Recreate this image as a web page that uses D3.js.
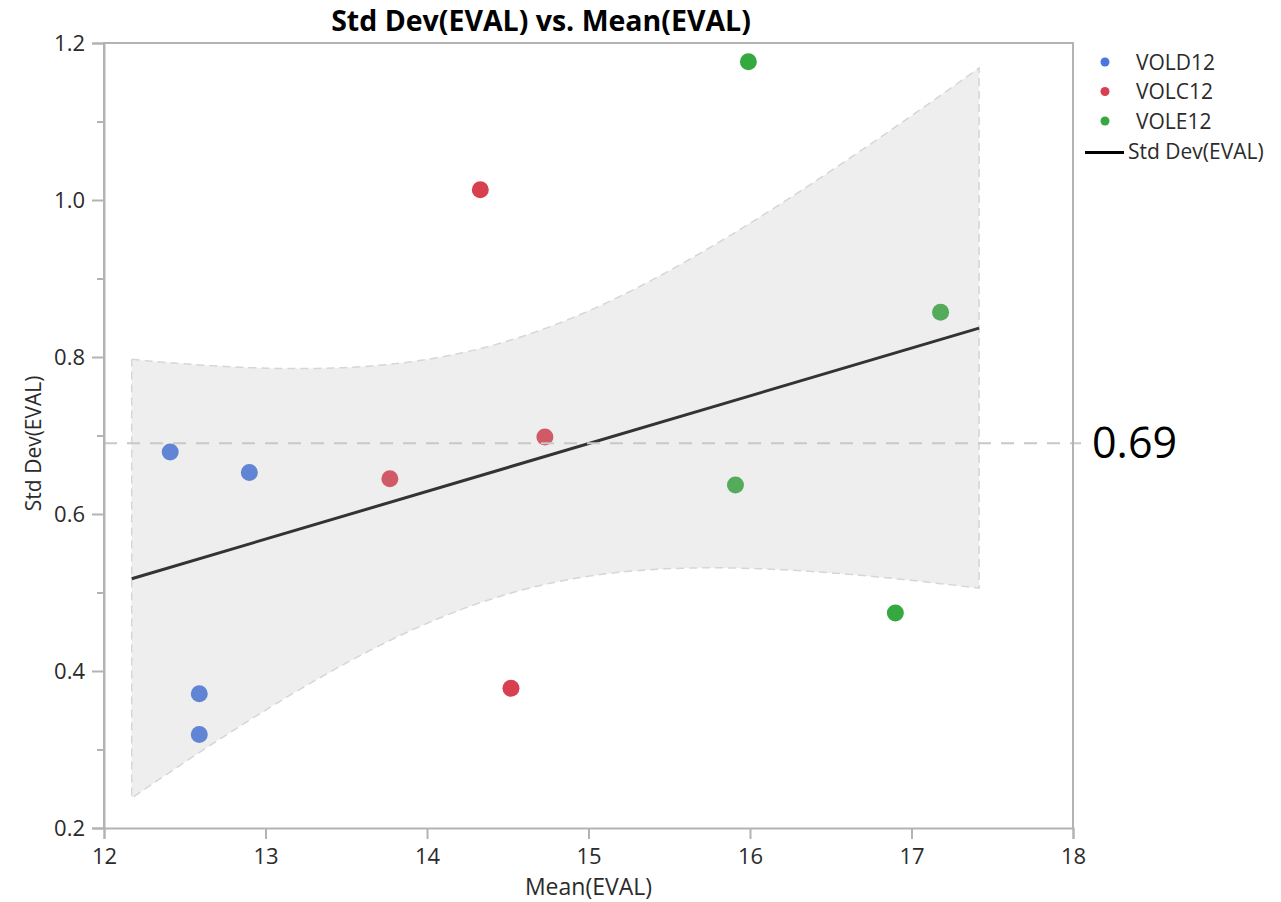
<!DOCTYPE html>
<html>
<head>
<meta charset="utf-8">
<script src="https://cdn.jsdelivr.net/npm/d3@7/dist/d3.min.js"></script>
<style>
  html, body { margin: 0; padding: 0; background: #fff; }
  svg { display: block; }
  text { font-family: "Open Sans", "DejaVu Sans", sans-serif; }
</style>
</head>
<body>
<svg id="chart" width="1281" height="902"></svg>
<script>
// Groups and their colours
const groups = ["VOLD12", "VOLC12", "VOLE12"];
const groupColors = ["#4a76de", "#d9404f", "#36a840"];

// Mean(EVAL) and Std Dev(EVAL) per sample, by group
const meanVOLD12 = [12.41, 12.90, 12.59, 12.59];
const sdVOLD12   = [0.679, 0.653, 0.371, 0.319];
const meanVOLC12 = [14.33, 14.73, 13.77, 14.52];
const sdVOLC12   = [1.013, 0.698, 0.645, 0.378];
const meanVOLE12 = [15.99, 17.18, 15.91, 16.90];
const sdVOLE12   = [1.176, 0.857, 0.637, 0.474];

// Axis ticks
const xTicks = [12, 13, 14, 15, 16, 17, 18];
const yMajorTicks = [0.2, 0.4, 0.6, 0.8, 1.0, 1.2];
const yMinorTicks = [0.3, 0.5, 0.7, 0.9, 1.1];

// Reference line value and t critical value (95%, 10 df) for the fit band
const refValue = 0.69;
const tCrit = 2.228;

const titleText = "Std Dev(EVAL) vs. Mean(EVAL)";
const xTitle = "Mean(EVAL)";
const yTitle = "Std Dev(EVAL)";
const fitLabel = "Std Dev(EVAL)";

const points = [];
[[meanVOLD12, sdVOLD12], [meanVOLC12, sdVOLC12], [meanVOLE12, sdVOLE12]].forEach((pair, gi) => {
  pair[0].forEach((m, i) => points.push({ g: gi, x: m, y: pair[1][i] }));
});

const svg = d3.select("#chart");
const plot = { left: 104, right: 1073, top: 43, bottom: 828 };

const x = d3.scaleLinear().domain([12, 18]).range([plot.left, plot.right]);
const y = d3.scaleLinear().domain([0.2, 1.2]).range([plot.bottom, plot.top]);

// Least-squares fit with confidence band on the mean
const n = points.length;
const mx = d3.mean(points, d => d.x);
const my = d3.mean(points, d => d.y);
const sxx = d3.sum(points, d => (d.x - mx) ** 2);
const sxy = d3.sum(points, d => (d.x - mx) * (d.y - my));
const slope = sxy / sxx;
const intercept = my - slope * mx;
const sse = d3.sum(points, d => (d.y - (intercept + slope * d.x)) ** 2);
const se = Math.sqrt(sse / (n - 2));
const [xmin, xmax] = d3.extent(points, d => d.x);
const pad = (xmax - xmin) * 0.05;
const fitX0 = xmin - pad, fitX1 = xmax + pad;
const bandData = d3.range(0, 101).map(i => {
  const xv = fitX0 + (fitX1 - fitX0) * i / 100;
  const yv = intercept + slope * xv;
  const hw = tCrit * se * Math.sqrt(1 / n + (xv - mx) ** 2 / sxx);
  return { x: xv, lo: yv - hw, hi: yv + hw };
});

// Points
svg.append("g").selectAll("circle").data(points).join("circle")
  .attr("cx", d => x(d.x)).attr("cy", d => y(d.y)).attr("r", 8.5)
  .attr("fill", d => groupColors[d.g]);

// Confidence band drawn over the points
const area = d3.area().x(d => x(d.x)).y0(d => y(d.lo)).y1(d => y(d.hi));
svg.append("path").datum(bandData).attr("d", area)
  .attr("fill", "rgb(180,180,180)").attr("fill-opacity", 0.23).attr("stroke", "none");
const bandOutline = bandData.map(d => [d.x, d.hi]).concat(bandData.slice().reverse().map(d => [d.x, d.lo]));
svg.append("path").datum(bandOutline.concat([bandOutline[0]])).attr("d", d3.line().x(d => x(d[0])).y(d => y(d[1])))
  .attr("fill", "none").attr("stroke", "#d6d6d6").attr("stroke-width", 1.5).attr("stroke-dasharray", "8,5");

// Fit line
svg.append("line")
  .attr("x1", x(fitX0)).attr("y1", y(intercept + slope * fitX0))
  .attr("x2", x(fitX1)).attr("y2", y(intercept + slope * fitX1))
  .attr("stroke", "#333").attr("stroke-width", 3);

// Reference line
svg.append("line")
  .attr("x1", plot.left).attr("x2", plot.right + 8)
  .attr("y1", y(refValue)).attr("y2", y(refValue))
  .attr("stroke", "#c8c8c8").attr("stroke-width", 2).attr("stroke-dasharray", "13,10");
svg.append("text").attr("x", 1092).attr("y", y(refValue) + 15)
  .attr("font-family", "Liberation Sans, Arial, sans-serif").attr("font-size", 43).attr("fill", "#000")
  .text(d3.format(".2f")(refValue));

// Frame
const frameColor = "#b3b3b3";
svg.append("path")
  .attr("d", `M${plot.left},${plot.bottom}V${plot.top}H${plot.right}V${plot.bottom}`)
  .attr("fill", "none").attr("stroke", frameColor).attr("stroke-width", 2);

// Axes
svg.append("g").attr("transform", `translate(0,${plot.bottom})`)
  .call(d3.axisBottom(x).tickValues(xTicks).tickFormat(d3.format("d")).tickSize(11).tickPadding(9));
svg.append("g").attr("transform", `translate(${plot.left},0)`)
  .call(d3.axisLeft(y).tickValues(yMajorTicks).tickFormat(d3.format(".1f")).tickSize(12).tickPadding(7));
svg.append("g").attr("transform", `translate(${plot.left},0)`)
  .call(d3.axisLeft(y).tickValues(yMinorTicks).tickFormat("").tickSize(7))
  .call(g => g.select(".domain").remove());
svg.selectAll(".domain, .tick line").attr("stroke", frameColor).attr("stroke-width", 2);
svg.selectAll(".tick text").attr("font-size", 22).attr("fill", "#2b2b2b")
  .attr("font-family", "Open Sans, sans-serif");

// Titles
svg.append("text").attr("x", 541).attr("y", 31).attr("text-anchor", "middle")
  .attr("font-size", 28.5).attr("font-weight", "bold").attr("fill", "#000").text(titleText);
svg.append("text").attr("x", x(15)).attr("y", 895).attr("text-anchor", "middle")
  .attr("font-size", 23).attr("fill", "#2b2b2b").text(xTitle);
svg.append("text").attr("transform", `translate(41,${y(0.69)}) rotate(-90)`).attr("text-anchor", "middle")
  .attr("font-size", 21).attr("fill", "#2b2b2b").text(yTitle);

// Legend
const legend = svg.append("g");
groups.forEach((gname, i) => {
  const cy = 62 + i * 29.5;
  legend.append("circle").attr("cx", 1105).attr("cy", cy).attr("r", 4.5).attr("fill", groupColors[i]);
  legend.append("text").attr("x", 1136).attr("y", cy + 7.5).attr("font-size", 21).attr("fill", "#2b2b2b").text(gname);
});
legend.append("line").attr("x1", 1085).attr("x2", 1124).attr("y1", 152.5).attr("y2", 152.5)
  .attr("stroke", "#000").attr("stroke-width", 3);
legend.append("text").attr("x", 1128).attr("y", 159).attr("font-size", 21).attr("fill", "#2b2b2b").text(fitLabel);
</script>
</body>
</html>
